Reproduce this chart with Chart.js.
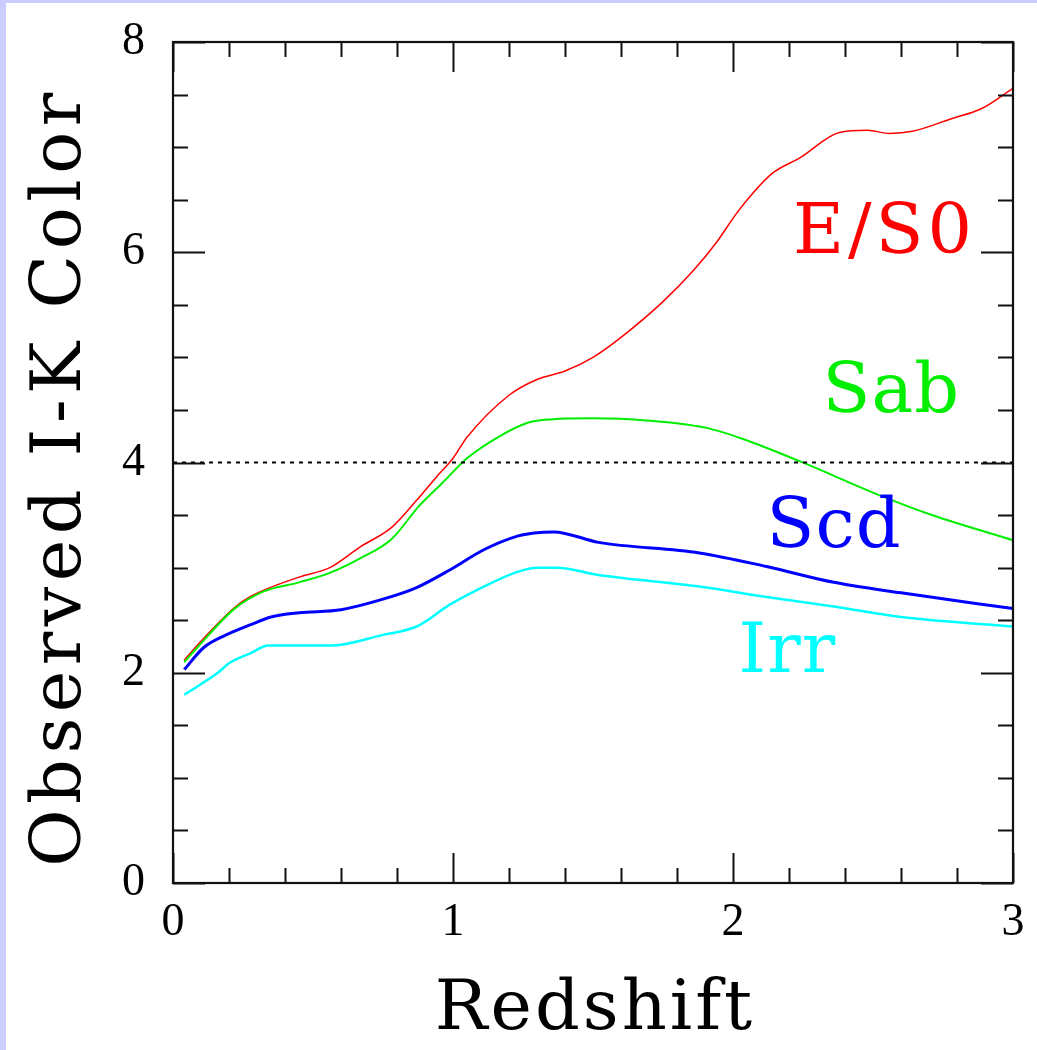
<!DOCTYPE html>
<html>
<head>
<meta charset="utf-8">
<script src="https://cdn.jsdelivr.net/npm/chart.js@4.4.1/dist/chart.umd.min.js"></script>
<style>
  html, body { margin: 0; padding: 0; background: #fff; }
  #wrap { width: 1037px; height: 1050px; }
</style>
</head>
<body>
<div id="wrap"><canvas id="chart"></canvas></div>
<script>
// redshift samples and observed I-K colour
const zE = [0.04, 0.1, 0.22, 0.28, 0.45, 0.56, 0.67, 0.78, 0.87, 0.94, 1.0, 1.05, 1.2, 1.3, 1.4, 1.5, 1.6, 1.75, 1.86, 1.94, 2.01, 2.07, 2.14, 2.24, 2.38, 2.48, 2.56, 2.64, 2.78, 2.89, 3.0];
const colorE = [2.12, 2.3, 2.62, 2.73, 2.91, 3.0, 3.2, 3.38, 3.64, 3.86, 4.04, 4.24, 4.64, 4.79, 4.87, 5.0, 5.19, 5.53, 5.83, 6.09, 6.36, 6.56, 6.75, 6.9, 7.14, 7.16, 7.13, 7.15, 7.27, 7.37, 7.56];

const zSab = [0.04, 0.09, 0.22, 0.32, 0.45, 0.56, 0.67, 0.78, 0.88, 0.96, 1.05, 1.16, 1.27, 1.35, 1.5, 1.69, 1.92, 2.06, 2.24, 2.54, 2.71, 3.0];
const colorSab = [2.1, 2.25, 2.61, 2.77, 2.86, 2.95, 3.09, 3.27, 3.59, 3.8, 4.04, 4.24, 4.38, 4.41, 4.42, 4.4, 4.32, 4.2, 4.01, 3.67, 3.5, 3.26];

const zScd = [0.04, 0.11, 0.19, 0.28, 0.35, 0.45, 0.6, 0.75, 0.87, 0.99, 1.11, 1.23, 1.29, 1.36, 1.52, 1.88, 2.12, 2.36, 2.6, 3.0];
const colorScd = [2.03, 2.24, 2.36, 2.46, 2.53, 2.57, 2.6, 2.7, 2.81, 2.98, 3.17, 3.3, 3.33, 3.34, 3.24, 3.14, 3.01, 2.86, 2.76, 2.61];

const zIrr = [0.04, 0.16, 0.2, 0.28, 0.34, 0.57, 0.75, 0.87, 0.99, 1.11, 1.23, 1.3, 1.37, 1.52, 1.88, 2.12, 2.36, 2.6, 3.0];
const colorIrr = [1.79, 2.0, 2.09, 2.19, 2.26, 2.26, 2.36, 2.44, 2.65, 2.82, 2.96, 3.0, 3.0, 2.93, 2.82, 2.72, 2.63, 2.53, 2.44];

// dotted reference level at I-K = 4
const zRef = [0, 3];
const colorRef = [4, 4];

const xTickLabels = ["0", "1", "2", "3"];
const yTickLabels = ["0", "2", "4", "6", "8"];

// where the type names sit (data units: left edge, baseline)
const typeNames = ["E/S0", "Sab", "Scd", "Irr"];
const typeColors = ["#ff0000", "#00ee00", "#0000ff", "#00ffff"];
const nameZ = [2.214, 2.32, 2.12, 2.02];
const nameC = [5.99, 4.48, 3.2, 2.01];

function pts(xs, ys) {
	return xs.map((x, i) => ({ x: x, y: ys[i] }));
}

const serif = "'DejaVu Serif', serif";

const framePlugin = {
	id: "frame",
	beforeDraw(chart) {
		const ctx = chart.ctx;
		ctx.save();
		ctx.fillStyle = "#ffffff";
		ctx.fillRect(0, 0, chart.width, chart.height);
		ctx.fillStyle = "#ccccff";
		ctx.fillRect(0, 0, chart.width, 3);
		ctx.fillRect(0, 0, 6, chart.height);
		ctx.restore();
	},
	afterDatasetsDraw(chart) {
		const ctx = chart.ctx;
		const a = chart.chartArea;
		const xs = chart.scales.x;
		const ys = chart.scales.y;
		ctx.save();
		ctx.strokeStyle = "#111";
		ctx.lineWidth = 2.2;
		ctx.strokeRect(a.left, a.top, a.right - a.left, a.bottom - a.top);

		// inward ticks on all four sides
		ctx.lineWidth = 2;
		ctx.beginPath();
		xs.ticks.forEach(t => {
			const px = Math.round(xs.getPixelForValue(t.value)) + 0.5;
			const major = Math.abs(t.value - Math.round(t.value)) < 1e-6;
			const len = major ? 30 : 15;
			ctx.moveTo(px, a.bottom);
			ctx.lineTo(px, a.bottom - len);
			ctx.moveTo(px, a.top);
			ctx.lineTo(px, a.top + len);
		});
		ys.ticks.forEach(t => {
			const py = Math.round(ys.getPixelForValue(t.value)) + 0.5;
			const major = Math.abs(t.value / 2 - Math.round(t.value / 2)) < 1e-6;
			const len = major ? 32 : 15;
			ctx.moveTo(a.left, py);
			ctx.lineTo(a.left + len, py);
			ctx.moveTo(a.right, py);
			ctx.lineTo(a.right - len, py);
		});
		ctx.stroke();

		// type names
		ctx.font = "70px " + serif;
		ctx.textAlign = "left";
		ctx.textBaseline = "alphabetic";
		typeNames.forEach((name, i) => {
			ctx.fillStyle = typeColors[i];
			ctx.letterSpacing = name === "E/S0" ? "4px" : "1px";
			ctx.fillText(name, xs.getPixelForValue(nameZ[i]), ys.getPixelForValue(nameC[i]));
		});

		// axis titles
		ctx.fillStyle = "#000";
		ctx.textAlign = "center";
		ctx.letterSpacing = "3px";
		ctx.fillText("Redshift", (a.left + a.right) / 2 + 2, 1029);
		ctx.translate(80, 477);
		ctx.rotate(-Math.PI / 2);
		ctx.letterSpacing = "5.5px";
		ctx.fillText("Observed I-K Color", 0, 0);
		ctx.restore();
	}
};

const lineStyle = {
	pointRadius: 0,
	fill: false,
	cubicInterpolationMode: "monotone"
};

new Chart(document.getElementById("chart"), {
	type: "line",
	data: {
		datasets: [
			{ ...lineStyle, label: "ref", data: pts(zRef, colorRef), borderColor: "#000", borderWidth: 2, borderDash: [4, 5] },
			{ ...lineStyle, label: "Irr", data: pts(zIrr, colorIrr), borderColor: typeColors[3], borderWidth: 2.5 },
			{ ...lineStyle, label: "Scd", data: pts(zScd, colorScd), borderColor: typeColors[2], borderWidth: 3 },
			{ ...lineStyle, label: "Sab", data: pts(zSab, colorSab), borderColor: "#00ee00", borderWidth: 2 },
			{ ...lineStyle, label: "E/S0", data: pts(zE, colorE), borderColor: typeColors[0], borderWidth: 1.5 }
		]
	},
	options: {
		responsive: true,
		maintainAspectRatio: false,
		animation: false,
		devicePixelRatio: 1,
		layout: { padding: { top: 42, right: 24, left: 0, bottom: 0 } },
		plugins: {
			legend: { display: false },
			tooltip: { enabled: false }
		},
		scales: {
			x: {
				type: "linear",
				min: 0,
				max: 3,
				border: { display: false },
				grid: { display: false, drawTicks: false },
				ticks: {
					stepSize: 0.2,
					autoSkip: false,
					maxRotation: 0,
					padding: 12,
					color: "#000",
					font: { family: "'Liberation Serif', serif", size: 46, lineHeight: 1.2 },
					callback: v => {
						const r = Math.round(v);
						return Math.abs(v - r) < 1e-6 ? xTickLabels[r] : "";
					}
				},
				afterFit: s => {
					s.height = 167;
					s.paddingLeft = 0;
					s.paddingRight = 0;
				}
			},
			y: {
				min: 0,
				max: 8,
				border: { display: false },
				grid: { display: false, drawTicks: false },
				ticks: {
					stepSize: 0.5,
					autoSkip: false,
					padding: 28,
					color: "#000",
					font: { family: "'Liberation Serif', serif", size: 46, lineHeight: 1.2 },
					callback: v => {
						const r = Math.round(v / 2);
						return Math.abs(v / 2 - r) < 1e-6 ? yTickLabels[r] : "";
					}
				},
				afterFit: s => {
					s.width = 173;
					s.paddingTop = 0;
					s.paddingBottom = 0;
				}
			}
		}
	},
	plugins: [framePlugin]
});
</script>
</body>
</html>
